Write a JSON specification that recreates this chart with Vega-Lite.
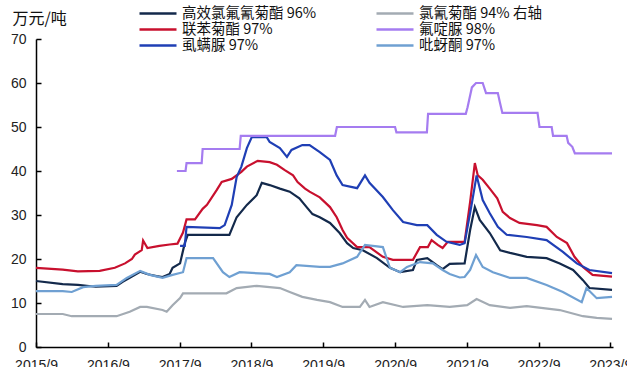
{
  "$schema": "https://vega.github.io/schema/vega-lite/v6.json",
  "width": 577,
  "height": 308,
  "autosize": {"type": "none"},
  "padding": {"left": 36, "top": 39, "right": 14, "bottom": 20},
  "background": "white",
  "config": {
    "view": {"stroke": null},
    "axis": {
      "grid": false,
      "domainColor": "#000000",
      "domainWidth": 1.5,
      "tickColor": "#000000",
      "tickWidth": 1.5,
      "tickSize": -5,
      "labelFont": "Liberation Sans",
      "labelFontSize": 14,
      "labelColor": "#222222"
    }
  },
  "datasets": {
    "prices": [
      {"s": "高效氯氟氰菊酯 96%", "d": "2015-09-01", "v": 15.0},
      {"s": "高效氯氟氰菊酯 96%", "d": "2016-01-15", "v": 14.3},
      {"s": "高效氯氟氰菊酯 96%", "d": "2016-04-01", "v": 14.1},
      {"s": "高效氯氟氰菊酯 96%", "d": "2016-07-01", "v": 13.7},
      {"s": "高效氯氟氰菊酯 96%", "d": "2016-10-15", "v": 13.9},
      {"s": "高效氯氟氰菊酯 96%", "d": "2016-11-15", "v": 14.8},
      {"s": "高效氯氟氰菊酯 96%", "d": "2016-12-21", "v": 15.7},
      {"s": "高效氯氟氰菊酯 96%", "d": "2017-02-12", "v": 17.1},
      {"s": "高效氯氟氰菊酯 96%", "d": "2017-03-18", "v": 16.6},
      {"s": "高效氯氟氰菊酯 96%", "d": "2017-05-06", "v": 16.1},
      {"s": "高效氯氟氰菊酯 96%", "d": "2017-06-06", "v": 15.9},
      {"s": "高效氯氟氰菊酯 96%", "d": "2017-07-12", "v": 16.6},
      {"s": "高效氯氟氰菊酯 96%", "d": "2017-07-27", "v": 18.0},
      {"s": "高效氯氟氰菊酯 96%", "d": "2017-09-03", "v": 19.0},
      {"s": "高效氯氟氰菊酯 96%", "d": "2017-09-27", "v": 23.6},
      {"s": "高效氯氟氰菊酯 96%", "d": "2017-10-12", "v": 25.5},
      {"s": "高效氯氟氰菊酯 96%", "d": "2018-05-12", "v": 25.5},
      {"s": "高效氯氟氰菊酯 96%", "d": "2018-06-18", "v": 29.5},
      {"s": "高效氯氟氰菊酯 96%", "d": "2018-08-09", "v": 32.3},
      {"s": "高效氯氟氰菊酯 96%", "d": "2018-09-28", "v": 34.5},
      {"s": "高效氯氟氰菊酯 96%", "d": "2018-10-24", "v": 37.3},
      {"s": "高效氯氟氰菊酯 96%", "d": "2018-12-03", "v": 36.8},
      {"s": "高效氯氟氰菊酯 96%", "d": "2019-01-24", "v": 36.0},
      {"s": "高效氯氟氰菊酯 96%", "d": "2019-03-15", "v": 35.3},
      {"s": "高效氯氟氰菊酯 96%", "d": "2019-05-03", "v": 33.8},
      {"s": "高效氯氟氰菊酯 96%", "d": "2019-06-09", "v": 31.8},
      {"s": "高效氯氟氰菊酯 96%", "d": "2019-07-09", "v": 30.2},
      {"s": "高效氯氟氰菊酯 96%", "d": "2019-08-15", "v": 29.5},
      {"s": "高效氯氟氰菊酯 96%", "d": "2019-10-06", "v": 28.2},
      {"s": "高效氯氟氰菊酯 96%", "d": "2019-11-24", "v": 25.9},
      {"s": "高效氯氟氰菊酯 96%", "d": "2020-01-01", "v": 23.6},
      {"s": "高效氯氟氰菊酯 96%", "d": "2020-02-01", "v": 22.5},
      {"s": "高效氯氟氰菊酯 96%", "d": "2020-03-21", "v": 22.0},
      {"s": "高效氯氟氰菊酯 96%", "d": "2020-06-01", "v": 20.2},
      {"s": "高效氯氟氰菊酯 96%", "d": "2020-08-06", "v": 18.0},
      {"s": "高效氯氟氰菊酯 96%", "d": "2020-09-27", "v": 17.0},
      {"s": "高效氯氟氰菊酯 96%", "d": "2020-12-01", "v": 17.5},
      {"s": "高效氯氟氰菊酯 96%", "d": "2020-12-21", "v": 19.8},
      {"s": "高效氯氟氰菊酯 96%", "d": "2021-02-12", "v": 20.2},
      {"s": "高效氯氟氰菊酯 96%", "d": "2021-04-01", "v": 18.6},
      {"s": "高效氯氟氰菊酯 96%", "d": "2021-05-01", "v": 17.7},
      {"s": "高效氯氟氰菊酯 96%", "d": "2021-06-06", "v": 18.9},
      {"s": "高效氯氟氰菊酯 96%", "d": "2021-08-21", "v": 19.0},
      {"s": "高效氯氟氰菊酯 96%", "d": "2021-09-18", "v": 26.6},
      {"s": "高效氯氟氰菊酯 96%", "d": "2021-10-12", "v": 31.8},
      {"s": "高效氯氟氰菊酯 96%", "d": "2021-11-06", "v": 28.9},
      {"s": "高效氯氟氰菊酯 96%", "d": "2021-12-27", "v": 25.9},
      {"s": "高效氯氟氰菊酯 96%", "d": "2022-02-18", "v": 22.0},
      {"s": "高效氯氟氰菊酯 96%", "d": "2022-04-09", "v": 21.4},
      {"s": "高效氯氟氰菊酯 96%", "d": "2022-07-03", "v": 20.5},
      {"s": "高效氯氟氰菊酯 96%", "d": "2022-10-12", "v": 20.2},
      {"s": "高效氯氟氰菊酯 96%", "d": "2022-12-18", "v": 19.0},
      {"s": "高效氯氟氰菊酯 96%", "d": "2023-02-24", "v": 17.5},
      {"s": "高效氯氟氰菊酯 96%", "d": "2023-04-15", "v": 15.2},
      {"s": "高效氯氟氰菊酯 96%", "d": "2023-05-18", "v": 13.4},
      {"s": "高效氯氟氰菊酯 96%", "d": "2023-09-10", "v": 13.0},

      {"s": "联苯菊酯 97%", "d": "2015-09-01", "v": 18.0},
      {"s": "联苯菊酯 97%", "d": "2016-01-15", "v": 17.6},
      {"s": "联苯菊酯 97%", "d": "2016-04-01", "v": 17.2},
      {"s": "联苯菊酯 97%", "d": "2016-07-21", "v": 17.3},
      {"s": "联苯菊酯 97%", "d": "2016-10-06", "v": 18.0},
      {"s": "联苯菊酯 97%", "d": "2016-11-27", "v": 19.0},
      {"s": "联苯菊酯 97%", "d": "2017-01-01", "v": 20.0},
      {"s": "联苯菊酯 97%", "d": "2017-01-16", "v": 21.0},
      {"s": "联苯菊酯 97%", "d": "2017-02-20", "v": 22.0},
      {"s": "联苯菊酯 97%", "d": "2017-02-27", "v": 24.2},
      {"s": "联苯菊酯 97%", "d": "2017-03-21", "v": 22.5},
      {"s": "联苯菊酯 97%", "d": "2017-05-21", "v": 23.0},
      {"s": "联苯菊酯 97%", "d": "2017-07-12", "v": 23.3},
      {"s": "联苯菊酯 97%", "d": "2017-08-21", "v": 23.5},
      {"s": "联苯菊酯 97%", "d": "2017-09-18", "v": 26.0},
      {"s": "联苯菊酯 97%", "d": "2017-10-06", "v": 29.0},
      {"s": "联苯菊酯 97%", "d": "2017-11-18", "v": 29.0},
      {"s": "联苯菊酯 97%", "d": "2017-12-27", "v": 31.4},
      {"s": "联苯菊酯 97%", "d": "2018-01-18", "v": 32.3},
      {"s": "联苯菊酯 97%", "d": "2018-03-09", "v": 35.7},
      {"s": "联苯菊酯 97%", "d": "2018-04-03", "v": 37.5},
      {"s": "联苯菊酯 97%", "d": "2018-05-24", "v": 38.2},
      {"s": "联苯菊酯 97%", "d": "2018-07-12", "v": 39.8},
      {"s": "联苯菊酯 97%", "d": "2018-08-09", "v": 41.0},
      {"s": "联苯菊酯 97%", "d": "2018-10-03", "v": 42.3},
      {"s": "联苯菊酯 97%", "d": "2018-12-03", "v": 42.0},
      {"s": "联苯菊酯 97%", "d": "2019-01-09", "v": 41.4},
      {"s": "联苯菊酯 97%", "d": "2019-02-18", "v": 40.2},
      {"s": "联苯菊酯 97%", "d": "2019-04-01", "v": 39.0},
      {"s": "联苯菊酯 97%", "d": "2019-04-24", "v": 37.5},
      {"s": "联苯菊酯 97%", "d": "2019-06-01", "v": 36.0},
      {"s": "联苯菊酯 97%", "d": "2019-06-24", "v": 35.3},
      {"s": "联苯菊酯 97%", "d": "2019-08-15", "v": 34.0},
      {"s": "联苯菊酯 97%", "d": "2019-10-06", "v": 31.8},
      {"s": "联苯菊酯 97%", "d": "2019-11-09", "v": 29.5},
      {"s": "联苯菊酯 97%", "d": "2019-12-09", "v": 26.6},
      {"s": "联苯菊酯 97%", "d": "2020-01-01", "v": 24.8},
      {"s": "联苯菊酯 97%", "d": "2020-02-21", "v": 22.7},
      {"s": "联苯菊酯 97%", "d": "2020-04-24", "v": 22.7},
      {"s": "联苯菊酯 97%", "d": "2020-07-01", "v": 20.5},
      {"s": "联苯菊酯 97%", "d": "2020-08-21", "v": 19.8},
      {"s": "联苯菊酯 97%", "d": "2020-12-01", "v": 19.8},
      {"s": "联苯菊酯 97%", "d": "2021-01-06", "v": 22.7},
      {"s": "联苯菊酯 97%", "d": "2021-02-15", "v": 22.7},
      {"s": "联苯菊酯 97%", "d": "2021-03-06", "v": 24.3},
      {"s": "联苯菊酯 97%", "d": "2021-04-06", "v": 23.2},
      {"s": "联苯菊酯 97%", "d": "2021-05-01", "v": 22.5},
      {"s": "联苯菊酯 97%", "d": "2021-05-27", "v": 23.9},
      {"s": "联苯菊酯 97%", "d": "2021-08-21", "v": 23.9},
      {"s": "联苯菊酯 97%", "d": "2021-09-18", "v": 33.0},
      {"s": "联苯菊酯 97%", "d": "2021-10-12", "v": 41.8},
      {"s": "联苯菊酯 97%", "d": "2021-10-27", "v": 39.0},
      {"s": "联苯菊酯 97%", "d": "2021-11-21", "v": 38.0},
      {"s": "联苯菊酯 97%", "d": "2021-12-27", "v": 36.0},
      {"s": "联苯菊酯 97%", "d": "2022-02-03", "v": 33.8},
      {"s": "联苯菊酯 97%", "d": "2022-03-03", "v": 30.7},
      {"s": "联苯菊酯 97%", "d": "2022-04-09", "v": 29.3},
      {"s": "联苯菊酯 97%", "d": "2022-05-27", "v": 28.2},
      {"s": "联苯菊酯 97%", "d": "2022-08-24", "v": 27.7},
      {"s": "联苯菊酯 97%", "d": "2022-10-12", "v": 27.3},
      {"s": "联苯菊酯 97%", "d": "2022-12-03", "v": 25.0},
      {"s": "联苯菊酯 97%", "d": "2023-01-24", "v": 23.6},
      {"s": "联苯菊酯 97%", "d": "2023-03-03", "v": 20.5},
      {"s": "联苯菊酯 97%", "d": "2023-04-15", "v": 18.2},
      {"s": "联苯菊酯 97%", "d": "2023-06-03", "v": 16.4},
      {"s": "联苯菊酯 97%", "d": "2023-09-10", "v": 16.0},

      {"s": "虱螨脲 97%", "d": "2017-09-03", "v": 23.0},
      {"s": "虱螨脲 97%", "d": "2017-09-27", "v": 23.0},
      {"s": "虱螨脲 97%", "d": "2017-10-06", "v": 27.3},
      {"s": "虱螨脲 97%", "d": "2018-03-24", "v": 27.0},
      {"s": "虱螨脲 97%", "d": "2018-04-18", "v": 27.7},
      {"s": "虱螨脲 97%", "d": "2018-05-24", "v": 32.3},
      {"s": "虱螨脲 97%", "d": "2018-06-18", "v": 38.6},
      {"s": "虱螨脲 97%", "d": "2018-07-12", "v": 41.0},
      {"s": "虱螨脲 97%", "d": "2018-08-09", "v": 45.2},
      {"s": "虱螨脲 97%", "d": "2018-09-03", "v": 47.7},
      {"s": "虱螨脲 97%", "d": "2018-11-18", "v": 47.7},
      {"s": "虱螨脲 97%", "d": "2018-12-03", "v": 46.6},
      {"s": "虱螨脲 97%", "d": "2019-01-24", "v": 45.2},
      {"s": "虱螨脲 97%", "d": "2019-03-01", "v": 43.2},
      {"s": "虱螨脲 97%", "d": "2019-03-24", "v": 44.8},
      {"s": "虱螨脲 97%", "d": "2019-05-18", "v": 45.9},
      {"s": "虱螨脲 97%", "d": "2019-06-24", "v": 45.9},
      {"s": "虱螨脲 97%", "d": "2019-08-15", "v": 44.3},
      {"s": "虱螨脲 97%", "d": "2019-10-06", "v": 42.5},
      {"s": "虱螨脲 97%", "d": "2019-11-09", "v": 39.0},
      {"s": "虱螨脲 97%", "d": "2019-12-09", "v": 36.8},
      {"s": "虱螨脲 97%", "d": "2020-02-21", "v": 36.1},
      {"s": "虱螨脲 97%", "d": "2020-04-01", "v": 39.0},
      {"s": "虱螨脲 97%", "d": "2020-04-24", "v": 37.3},
      {"s": "虱螨脲 97%", "d": "2020-07-01", "v": 34.1},
      {"s": "虱螨脲 97%", "d": "2020-08-21", "v": 31.1},
      {"s": "虱螨脲 97%", "d": "2020-10-12", "v": 28.4},
      {"s": "虱螨脲 97%", "d": "2020-12-21", "v": 27.7},
      {"s": "虱螨脲 97%", "d": "2021-02-12", "v": 27.7},
      {"s": "虱螨脲 97%", "d": "2021-04-01", "v": 25.5},
      {"s": "虱螨脲 97%", "d": "2021-05-21", "v": 23.9},
      {"s": "虱螨脲 97%", "d": "2021-07-27", "v": 23.2},
      {"s": "虱螨脲 97%", "d": "2021-08-21", "v": 23.6},
      {"s": "虱螨脲 97%", "d": "2021-09-27", "v": 32.7},
      {"s": "虱螨脲 97%", "d": "2021-10-21", "v": 39.0},
      {"s": "虱螨脲 97%", "d": "2021-11-21", "v": 33.4},
      {"s": "虱螨脲 97%", "d": "2021-12-27", "v": 30.4},
      {"s": "虱螨脲 97%", "d": "2022-02-06", "v": 27.3},
      {"s": "虱螨脲 97%", "d": "2022-03-23", "v": 25.5},
      {"s": "虱螨脲 97%", "d": "2022-07-03", "v": 25.0},
      {"s": "虱螨脲 97%", "d": "2022-10-12", "v": 24.3},
      {"s": "虱螨脲 97%", "d": "2023-01-03", "v": 21.6},
      {"s": "虱螨脲 97%", "d": "2023-03-15", "v": 19.0},
      {"s": "虱螨脲 97%", "d": "2023-05-18", "v": 17.5},
      {"s": "虱螨脲 97%", "d": "2023-09-10", "v": 16.8},

      {"s": "吡蚜酮 97%", "d": "2015-09-01", "v": 12.7},
      {"s": "吡蚜酮 97%", "d": "2016-01-15", "v": 12.7},
      {"s": "吡蚜酮 97%", "d": "2016-03-01", "v": 12.5},
      {"s": "吡蚜酮 97%", "d": "2016-04-28", "v": 13.6},
      {"s": "吡蚜酮 97%", "d": "2016-07-01", "v": 13.9},
      {"s": "吡蚜酮 97%", "d": "2016-10-15", "v": 14.1},
      {"s": "吡蚜酮 97%", "d": "2016-12-06", "v": 15.7},
      {"s": "吡蚜酮 97%", "d": "2017-02-12", "v": 17.3},
      {"s": "吡蚜酮 97%", "d": "2017-04-03", "v": 16.4},
      {"s": "吡蚜酮 97%", "d": "2017-06-06", "v": 15.7},
      {"s": "吡蚜酮 97%", "d": "2017-07-27", "v": 16.4},
      {"s": "吡蚜酮 97%", "d": "2017-09-18", "v": 17.0},
      {"s": "吡蚜酮 97%", "d": "2017-10-06", "v": 20.2},
      {"s": "吡蚜酮 97%", "d": "2018-02-18", "v": 20.2},
      {"s": "吡蚜酮 97%", "d": "2018-04-09", "v": 17.0},
      {"s": "吡蚜酮 97%", "d": "2018-05-12", "v": 15.9},
      {"s": "吡蚜酮 97%", "d": "2018-07-03", "v": 17.0},
      {"s": "吡蚜酮 97%", "d": "2018-12-03", "v": 16.6},
      {"s": "吡蚜酮 97%", "d": "2019-01-09", "v": 15.9},
      {"s": "吡蚜酮 97%", "d": "2019-03-15", "v": 17.0},
      {"s": "吡蚜酮 97%", "d": "2019-04-18", "v": 18.6},
      {"s": "吡蚜酮 97%", "d": "2019-08-15", "v": 18.2},
      {"s": "吡蚜酮 97%", "d": "2019-10-06", "v": 18.2},
      {"s": "吡蚜酮 97%", "d": "2019-12-09", "v": 19.0},
      {"s": "吡蚜酮 97%", "d": "2020-02-21", "v": 20.5},
      {"s": "吡蚜酮 97%", "d": "2020-04-01", "v": 23.2},
      {"s": "吡蚜酮 97%", "d": "2020-07-01", "v": 22.7},
      {"s": "吡蚜酮 97%", "d": "2020-08-06", "v": 18.0},
      {"s": "吡蚜酮 97%", "d": "2020-09-27", "v": 17.0},
      {"s": "吡蚜酮 97%", "d": "2020-11-01", "v": 18.2},
      {"s": "吡蚜酮 97%", "d": "2021-01-06", "v": 19.3},
      {"s": "吡蚜酮 97%", "d": "2021-03-12", "v": 19.0},
      {"s": "吡蚜酮 97%", "d": "2021-05-01", "v": 17.5},
      {"s": "吡蚜酮 97%", "d": "2021-06-06", "v": 16.6},
      {"s": "吡蚜酮 97%", "d": "2021-07-27", "v": 15.8},
      {"s": "吡蚜酮 97%", "d": "2021-08-21", "v": 15.9},
      {"s": "吡蚜酮 97%", "d": "2021-09-18", "v": 17.5},
      {"s": "吡蚜酮 97%", "d": "2021-10-18", "v": 20.9},
      {"s": "吡蚜酮 97%", "d": "2021-11-21", "v": 18.2},
      {"s": "吡蚜酮 97%", "d": "2022-01-12", "v": 17.0},
      {"s": "吡蚜酮 97%", "d": "2022-04-09", "v": 15.7},
      {"s": "吡蚜酮 97%", "d": "2022-07-03", "v": 15.7},
      {"s": "吡蚜酮 97%", "d": "2022-10-12", "v": 14.1},
      {"s": "吡蚜酮 97%", "d": "2023-01-03", "v": 12.5},
      {"s": "吡蚜酮 97%", "d": "2023-04-09", "v": 10.2},
      {"s": "吡蚜酮 97%", "d": "2023-05-03", "v": 13.4},
      {"s": "吡蚜酮 97%", "d": "2023-06-24", "v": 11.1},
      {"s": "吡蚜酮 97%", "d": "2023-09-10", "v": 11.4},

      {"s": "氯氰菊酯 94% 右轴", "d": "2015-09-01", "v": 7.5},
      {"s": "氯氰菊酯 94% 右轴", "d": "2016-01-15", "v": 7.5},
      {"s": "氯氰菊酯 94% 右轴", "d": "2016-03-01", "v": 7.0},
      {"s": "氯氰菊酯 94% 右轴", "d": "2016-10-15", "v": 7.0},
      {"s": "氯氰菊酯 94% 右轴", "d": "2016-12-21", "v": 8.0},
      {"s": "氯氰菊酯 94% 右轴", "d": "2017-02-12", "v": 9.1},
      {"s": "氯氰菊酯 94% 右轴", "d": "2017-03-18", "v": 9.1},
      {"s": "氯氰菊酯 94% 右轴", "d": "2017-06-06", "v": 8.4},
      {"s": "氯氰菊酯 94% 右轴", "d": "2017-06-27", "v": 8.0},
      {"s": "氯氰菊酯 94% 右轴", "d": "2017-07-27", "v": 9.5},
      {"s": "氯氰菊酯 94% 右轴", "d": "2017-09-03", "v": 11.1},
      {"s": "氯氰菊酯 94% 右轴", "d": "2017-09-18", "v": 12.2},
      {"s": "氯氰菊酯 94% 右轴", "d": "2018-04-27", "v": 12.2},
      {"s": "氯氰菊酯 94% 右轴", "d": "2018-06-18", "v": 13.4},
      {"s": "氯氰菊酯 94% 右轴", "d": "2018-09-28", "v": 13.9},
      {"s": "氯氰菊酯 94% 右轴", "d": "2019-01-24", "v": 13.4},
      {"s": "氯氰菊酯 94% 右轴", "d": "2019-03-15", "v": 12.5},
      {"s": "氯氰菊酯 94% 右轴", "d": "2019-05-18", "v": 11.4},
      {"s": "氯氰菊酯 94% 右轴", "d": "2019-08-01", "v": 10.7},
      {"s": "氯氰菊酯 94% 右轴", "d": "2019-10-06", "v": 10.2},
      {"s": "氯氰菊酯 94% 右轴", "d": "2019-12-09", "v": 9.1},
      {"s": "氯氰菊酯 94% 右轴", "d": "2020-03-06", "v": 9.1},
      {"s": "氯氰菊酯 94% 右轴", "d": "2020-04-01", "v": 10.7},
      {"s": "氯氰菊酯 94% 右轴", "d": "2020-04-24", "v": 9.1},
      {"s": "氯氰菊酯 94% 右轴", "d": "2020-07-01", "v": 10.2},
      {"s": "氯氰菊酯 94% 右轴", "d": "2020-10-12", "v": 9.1},
      {"s": "氯氰菊酯 94% 右轴", "d": "2021-02-12", "v": 9.5},
      {"s": "氯氰菊酯 94% 右轴", "d": "2021-06-06", "v": 9.1},
      {"s": "氯氰菊酯 94% 右轴", "d": "2021-09-03", "v": 9.5},
      {"s": "氯氰菊酯 94% 右轴", "d": "2021-10-21", "v": 10.9},
      {"s": "氯氰菊酯 94% 右轴", "d": "2021-12-27", "v": 9.5},
      {"s": "氯氰菊酯 94% 右轴", "d": "2022-04-09", "v": 8.9},
      {"s": "氯氰菊酯 94% 右轴", "d": "2022-07-03", "v": 9.3},
      {"s": "氯氰菊酯 94% 右轴", "d": "2022-12-18", "v": 8.4},
      {"s": "氯氰菊酯 94% 右轴", "d": "2023-04-15", "v": 7.0},
      {"s": "氯氰菊酯 94% 右轴", "d": "2023-06-24", "v": 6.6},
      {"s": "氯氰菊酯 94% 右轴", "d": "2023-09-10", "v": 6.4},

      {"s": "氟啶脲 98%", "d": "2017-08-18", "v": 40.0},
      {"s": "氟啶脲 98%", "d": "2017-10-01", "v": 40.0},
      {"s": "氟啶脲 98%", "d": "2017-10-06", "v": 41.8},
      {"s": "氟啶脲 98%", "d": "2017-12-22", "v": 41.8},
      {"s": "氟啶脲 98%", "d": "2017-12-27", "v": 45.0},
      {"s": "氟啶脲 98%", "d": "2018-07-03", "v": 45.0},
      {"s": "氟啶脲 98%", "d": "2018-07-09", "v": 48.0},
      {"s": "氟啶脲 98%", "d": "2019-11-01", "v": 48.0},
      {"s": "氟啶脲 98%", "d": "2019-11-10", "v": 50.0},
      {"s": "氟啶脲 98%", "d": "2020-09-01", "v": 50.0},
      {"s": "氟啶脲 98%", "d": "2020-09-08", "v": 48.8},
      {"s": "氟啶脲 98%", "d": "2021-02-10", "v": 48.8},
      {"s": "氟啶脲 98%", "d": "2021-02-16", "v": 53.0},
      {"s": "氟啶脲 98%", "d": "2021-08-27", "v": 53.0},
      {"s": "氟啶脲 98%", "d": "2021-09-05", "v": 54.5},
      {"s": "氟啶脲 98%", "d": "2021-09-27", "v": 59.0},
      {"s": "氟啶脲 98%", "d": "2021-10-18", "v": 60.0},
      {"s": "氟啶脲 98%", "d": "2021-11-21", "v": 60.0},
      {"s": "氟啶脲 98%", "d": "2021-12-08", "v": 57.7},
      {"s": "氟啶脲 98%", "d": "2022-02-06", "v": 57.7},
      {"s": "氟啶脲 98%", "d": "2022-02-16", "v": 55.7},
      {"s": "氟啶脲 98%", "d": "2022-03-01", "v": 53.2},
      {"s": "氟啶脲 98%", "d": "2022-08-27", "v": 53.2},
      {"s": "氟啶脲 98%", "d": "2022-09-06", "v": 50.0},
      {"s": "氟啶脲 98%", "d": "2022-11-07", "v": 50.0},
      {"s": "氟啶脲 98%", "d": "2022-11-14", "v": 48.0},
      {"s": "氟啶脲 98%", "d": "2023-01-22", "v": 48.0},
      {"s": "氟啶脲 98%", "d": "2023-01-30", "v": 46.4},
      {"s": "氟啶脲 98%", "d": "2023-02-20", "v": 45.5},
      {"s": "氟啶脲 98%", "d": "2023-03-05", "v": 44.0},
      {"s": "氟啶脲 98%", "d": "2023-09-10", "v": 44.0}
    ]
  },
  "data": {"name": "prices"},
  "mark": {"type": "line", "strokeWidth": 2.2, "interpolate": "linear"},
  "encoding": {
    "x": {
      "field": "d",
      "type": "temporal",
      "scale": {"type": "utc", "domain": [{"year": 2015, "month": 9, "date": 1, "utc": true}, {"year": 2023, "month": 9, "date": 15, "utc": true}]},
      "axis": {
        "title": null,
        "format": "%Y/%-m",
        "labelPadding": 16,
        "values": [
          {"year": 2015, "month": 9, "date": 1, "utc": true},
          {"year": 2016, "month": 9, "date": 1, "utc": true},
          {"year": 2017, "month": 9, "date": 1, "utc": true},
          {"year": 2018, "month": 9, "date": 1, "utc": true},
          {"year": 2019, "month": 9, "date": 1, "utc": true},
          {"year": 2020, "month": 9, "date": 1, "utc": true},
          {"year": 2021, "month": 9, "date": 1, "utc": true},
          {"year": 2022, "month": 9, "date": 1, "utc": true},
          {"year": 2023, "month": 9, "date": 1, "utc": true}
        ],
        "labelOverlap": false,
        "labelFlush": false
      }
    },
    "y": {
      "field": "v",
      "type": "quantitative",
      "scale": {"domain": [0, 70], "nice": false},
      "axis": {
        "values": [0, 10, 20, 30, 40, 50, 60, 70],
        "labelPadding": 15,
        "title": "万元/吨",
        "titleAngle": 0,
        "titleAlign": "left",
        "titleBaseline": "middle",
        "titleX": -24,
        "titleY": -21,
        "titleFont": "Noto Sans CJK SC",
        "titleFontSize": 16,
        "titleFontWeight": "normal",
        "titleColor": "#111111"
      }
    },
    "color": {
      "field": "s",
      "type": "nominal",
      "scale": {
        "domain": ["高效氯氟氰菊酯 96%", "联苯菊酯 97%", "虱螨脲 97%", "氯氰菊酯 94% 右轴", "氟啶脲 98%", "吡蚜酮 97%"],
        "range": ["#13294b", "#c8102e", "#1f3fb5", "#a3abb3", "#a57cf0", "#6fa0d2"]
      },
      "legend": {
        "title": null,
        "orient": "none",
        "legendX": 102,
        "legendY": -33,
        "columns": 2,
        "columnPadding": 58,
        "rowPadding": 0,
        "clipHeight": 15,
        "padding": 0,
        "symbolType": "stroke",
        "symbolSize": 1369,
        "symbolStrokeWidth": 2.5,
        "labelFont": "Noto Sans CJK SC",
        "labelFontSize": 14.5,
        "labelColor": "#111111",
        "labelOffset": 4,
        "labelLimit": 300
      }
    }
  }
}
